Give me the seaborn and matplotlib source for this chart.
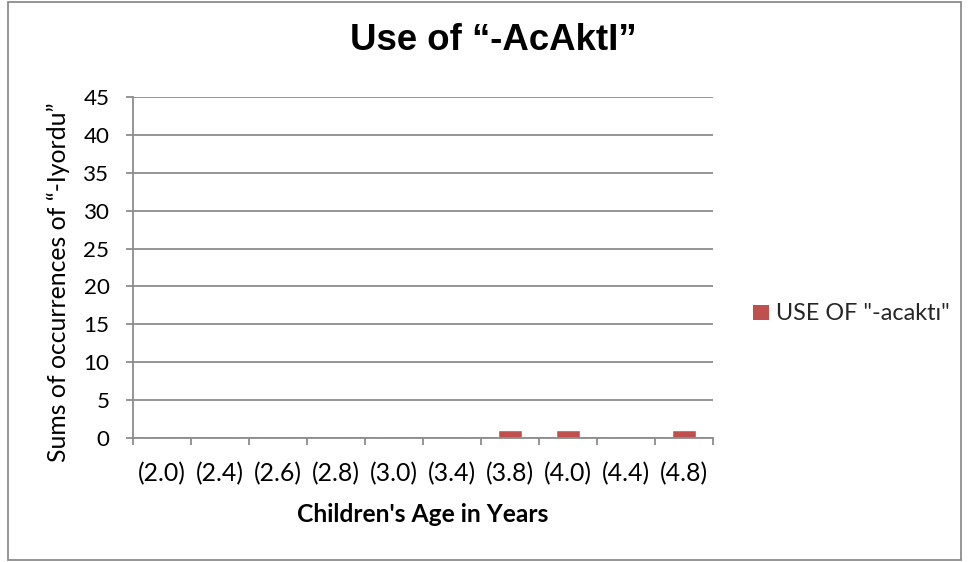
import matplotlib
matplotlib.use("Agg")
import matplotlib.pyplot as plt
import seaborn as sns
import pandas as pd
from matplotlib.patches import Patch

ages = ["(2.0)", "(2.4)", "(2.6)", "(2.8)", "(3.0)", "(3.4)", "(3.8)", "(4.0)", "(4.4)", "(4.8)"]
values = [0, 0, 0, 0, 0, 0, 1, 1, 0, 1]
series_name = 'USE OF "-acaktı"'
yticks = [0, 5, 10, 15, 20, 25, 30, 35, 40, 45]
title = "Use of “-AcAktI”"
xlabel = "Children's Age in Years"
ylabel = "Sums of occurrences of “-Iyordu”"

sns.set_theme(style="white")
plt.rcParams['font.family'] = ['Lato', 'DejaVu Sans']
TITLE_FAMILY = ["Liberation Sans", "DejaVu Sans"]

df = pd.DataFrame({"age": ages, "value": values})

W, H = 968, 562
fig = plt.figure(figsize=(W/100, H/100), dpi=100)
renderer = fig.canvas.get_renderer()


def measure(s, size, **kw):
    t = fig.text(0, 0, s, fontsize=size, **kw)
    bb = t.get_window_extent(renderer)
    t.remove()
    return bb.width, bb.height


def fit_size(s, target_px, **kw):
    w, _ = measure(s, 10, **kw)
    size = 10 * target_px / w
    w, _ = measure(s, size, **kw)
    return size * target_px / w


xtick_fs = fit_size(ages[0], 48)
ytick_fs = fit_size("45", 26)
xlabel_fs = fit_size(xlabel, 251, fontweight="bold")
ylabel_fs = fit_size(ylabel, 358)
legend_fs = fit_size(series_name, 174)
title_fs = fit_size(title, 287, fontweight="bold", family=TITLE_FAMILY)

ax = fig.add_axes([133/W, 1-438/H, (713-133)/W, (438-97)/H])

sns.barplot(data=df, x="age", y="value", color="#C0504D", width=0.4,
            saturation=1, ax=ax, order=ages)

GRID = "#8C8C8C"
ax.set_ylim(0, 45)
ax.set_xlim(-0.5, len(ages) - 0.5)
ax.set_yticks(yticks)
ax.yaxis.grid(True, color=GRID, linewidth=1.3)
ax.set_axisbelow(True)
for s in ["top", "right"]:
    ax.spines[s].set_visible(False)
for s in ["left", "bottom"]:
    ax.spines[s].set_color(GRID)
    ax.spines[s].set_linewidth(1.3)

# x tick labels centred at y=474 px
_, xh = measure(ages[0], xtick_fs)
xpad_pts = (474 - 438 - xh / 2) * 0.72
ax.set_xticks(range(len(ages)))
ax.set_xticklabels(ages, fontsize=xtick_fs, color="black")
ax.tick_params(axis="x", length=0, pad=xpad_pts)
ax.set_xticks([i - 0.5 for i in range(len(ages) + 1)], minor=True)
ax.tick_params(axis="x", which="minor", length=5, width=1.3, color=GRID, direction="out", bottom=True)
ax.tick_params(axis="y", length=5, width=1.3, color=GRID, direction="out", left=True,
               labelsize=ytick_fs, labelcolor="black", pad=12)

ax.set_xlabel(xlabel, fontsize=xlabel_fs, fontweight="bold", color="black")
ax.xaxis.label.set_va("center")
ax.xaxis.set_label_coords(0.5, (438 - 514) / (438 - 97))
ax.set_ylabel("")
fig.text(58/W, 1-282/H, ylabel, rotation=90,
         ha="center", va="center", fontsize=ylabel_fs, color="black")

fig.text(493/W, 1-41/H, title, ha="center", va="center", color="black",
         fontsize=title_fs, fontweight="bold", family=TITLE_FAMILY)

em = legend_fs / 0.72
handles = [Patch(facecolor="#C0504D", edgecolor="none", label=series_name)]
fig.legend(handles=handles, loc="center left", bbox_to_anchor=(753/W, 1-314/H),
           frameon=False, fontsize=legend_fs, handlelength=16/em, handleheight=14/em,
           handletextpad=7/em, borderaxespad=0, borderpad=0)

border = plt.Rectangle((8/W, 2/H), (961-8)/W, (561-3)/H, transform=fig.transFigure,
                       fill=False, edgecolor=GRID, linewidth=1.3)
fig.patches.append(border)

fig.savefig("out.png", dpi=100, facecolor="white")
